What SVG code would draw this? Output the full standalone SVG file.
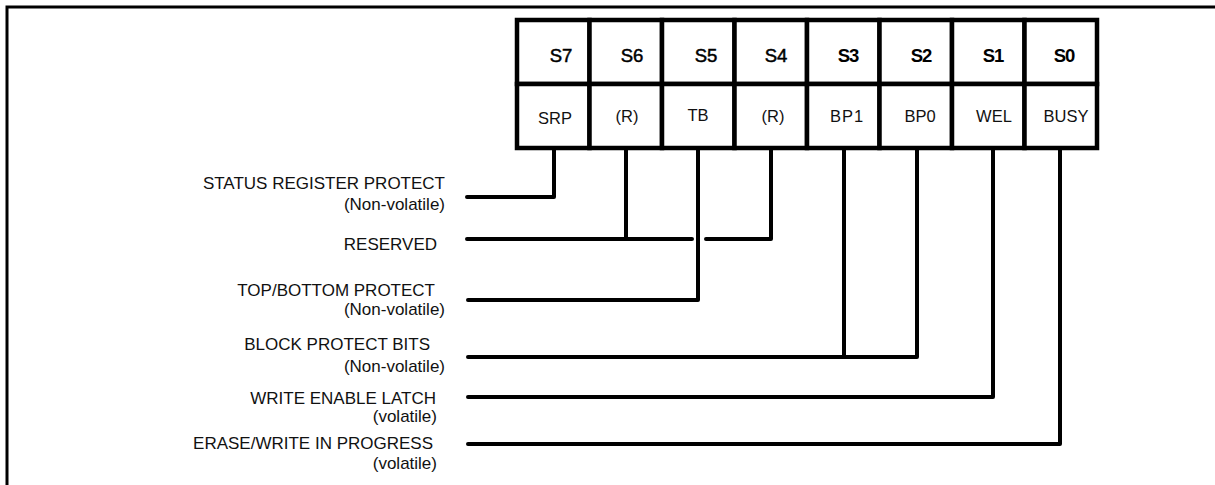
<svg xmlns="http://www.w3.org/2000/svg" width="1215" height="485" viewBox="0 0 1215 485">
<style>
.frame{fill:none;stroke:#000;stroke-width:3}
.cell{fill:#fff;stroke:#000;stroke-width:4.5}
.hdr{font-family:"Liberation Sans",Arial,sans-serif;font-size:18.5px;fill:#000;text-anchor:middle}
.hb{font-weight:bold}
.hn{stroke:#000;stroke-width:0.5}
.fld{font-family:"Liberation Sans",Arial,sans-serif;font-size:16.5px;fill:#111;text-anchor:middle}
.lbl{font-family:"Liberation Sans",Arial,sans-serif;font-size:17px;fill:#111;text-anchor:end}
.wire{fill:none;stroke:#000;stroke-width:4;stroke-linecap:round;stroke-linejoin:round}
</style>
<rect width="1215" height="485" fill="#fff"/>
<path class="frame" d="M7,485 V7 H1215"/>
<g id="register">
<g id="s7"><rect class="cell" x="517" y="20" width="72.5" height="64"/><rect class="cell" x="517" y="84" width="72.5" height="64"/><text class="hdr hn" x="561" y="62">S7</text><text class="fld" x="555" y="124">SRP</text></g>
<g id="s6"><rect class="cell" x="589.5" y="20" width="72.5" height="64"/><rect class="cell" x="589.5" y="84" width="72.5" height="64"/><text class="hdr hn" x="632" y="62">S6</text><text class="fld" x="627" y="122">(R)</text></g>
<g id="s5"><rect class="cell" x="662" y="20" width="72.5" height="64"/><rect class="cell" x="662" y="84" width="72.5" height="64"/><text class="hdr hn" x="706" y="62">S5</text><text class="fld" x="698" y="121">TB</text></g>
<g id="s4"><rect class="cell" x="734.5" y="20" width="72.5" height="64"/><rect class="cell" x="734.5" y="84" width="72.5" height="64"/><text class="hdr hn" x="776" y="62">S4</text><text class="fld" x="773" y="122">(R)</text></g>
<g id="s3"><rect class="cell" x="807" y="20" width="72.5" height="64"/><rect class="cell" x="807" y="84" width="72.5" height="64"/><text class="hdr hb" x="848" y="62" letter-spacing="-1">S3</text><text class="fld" x="847" y="122" letter-spacing="1">BP1</text></g>
<g id="s2"><rect class="cell" x="879.5" y="20" width="72.5" height="64"/><rect class="cell" x="879.5" y="84" width="72.5" height="64"/><text class="hdr hb" x="921" y="62" letter-spacing="-1">S2</text><text class="fld" x="920" y="122">BP0</text></g>
<g id="s1"><rect class="cell" x="952" y="20" width="72.5" height="64"/><rect class="cell" x="952" y="84" width="72.5" height="64"/><text class="hdr hb" x="993" y="62" letter-spacing="-1">S1</text><text class="fld" x="994" y="122">WEL</text></g>
<g id="s0"><rect class="cell" x="1024.5" y="20" width="72.5" height="64"/><rect class="cell" x="1024.5" y="84" width="72.5" height="64"/><text class="hdr hb" x="1064" y="62" letter-spacing="-1">S0</text><text class="fld" x="1066" y="122">BUSY</text></g>
</g>
<g id="connectors">
<path class="wire" d="M467,197 H554 V150"/>
<path class="wire" d="M467,239 H692 M626,239 V150"/>
<path class="wire" d="M706,239 H771 V150"/>
<path class="wire" d="M468,300 H698 V150"/>
<path class="wire" d="M468,357 H917 V150 M844,357 V150"/>
<path class="wire" d="M468,397 H993 V150"/>
<path class="wire" d="M468,444 H1060 V150"/>
</g>
<g id="label-srp"><text class="lbl" x="445" y="189">STATUS REGISTER PROTECT</text><text class="lbl" x="445" y="210">(Non-volatile)</text></g>
<g id="label-reserved"><text class="lbl" x="437" y="250">RESERVED</text></g>
<g id="label-tb"><text class="lbl" x="435" y="296">TOP/BOTTOM PROTECT</text><text class="lbl" x="445" y="315">(Non-volatile)</text></g>
<g id="label-bp"><text class="lbl" x="430" y="350">BLOCK PROTECT BITS</text><text class="lbl" x="445" y="372">(Non-volatile)</text></g>
<g id="label-wel"><text class="lbl" x="436" y="404">WRITE ENABLE LATCH</text><text class="lbl" x="437" y="422">(volatile)</text></g>
<g id="label-busy"><text class="lbl" x="433" y="449">ERASE/WRITE IN PROGRESS</text><text class="lbl" x="437" y="469">(volatile)</text></g>
</svg>
